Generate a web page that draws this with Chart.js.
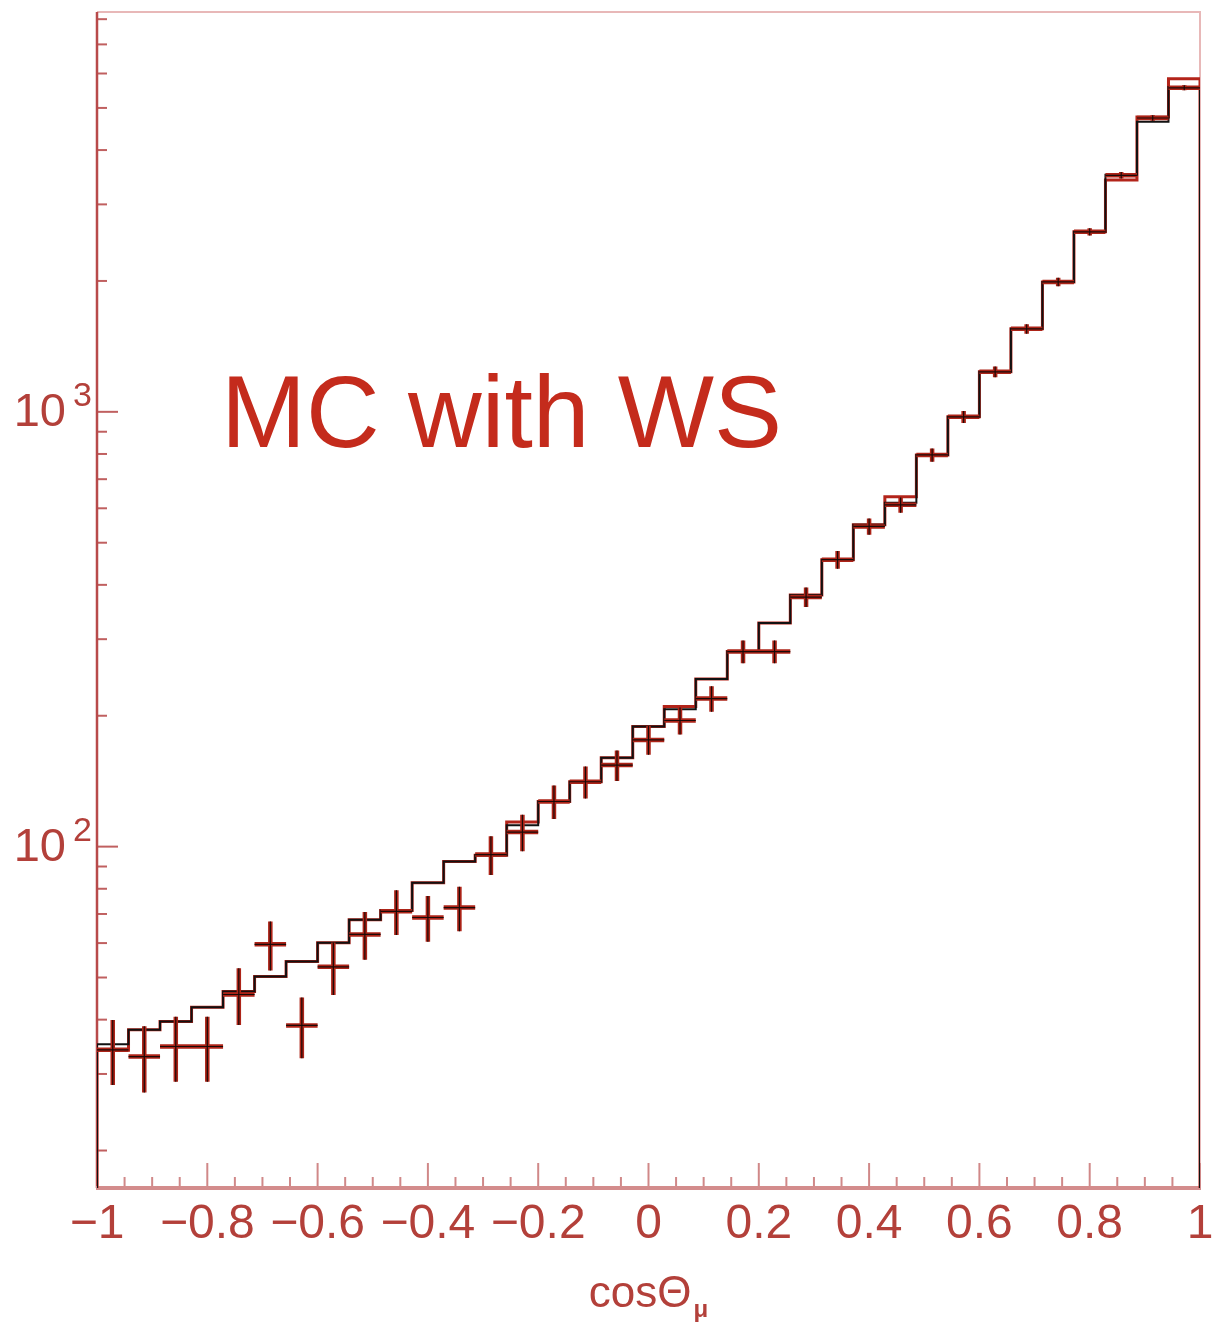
<!DOCTYPE html>
<html>
<head>
<meta charset="utf-8">
<script src="https://cdn.jsdelivr.net/npm/chart.js@4.4.1/dist/chart.umd.min.js"></script>
<style>
  html, body { margin: 0; padding: 0; background: #fff; }
  #wrap { width: 1217px; height: 1331px; }
</style>
</head>
<body>
<div id="wrap"><canvas id="histo" width="1217" height="1331"></canvas></div>
<script>
// cos(theta_mu) distribution, 35 equal bins between -1 and 1
const nBins = 35;
const xMin = -1, xMax = 1;
const yMin = 16.4, yMax = 8310;

// MC prediction, red histogram (entries per bin)
const mcRed = [34, 37.9, 39.6, 42.7, 46.4, 50.3, 54.4, 60.1, 67.9, 71.3, 82.6, 92.4, 95.5, 114, 127, 141, 160, 189,
               210, 243, 281, 327, 379, 457, 550, 638, 796, 974, 1236, 1552, 1990, 2594, 3414, 4766, 5834];
// MC prediction, black histogram
const mcBlack = [35.1, 37.9, 39.6, 42.7, 46.4, 50.3, 54.4, 60.1, 67.9, 71.3, 82.6, 92.4, 95.5, 112, 127, 141, 160, 189,
                 207, 243, 281, 327, 379, 457, 550, 618, 796, 974, 1236, 1552, 1990, 2594, 3508, 4645, 5585];
// data points and their (statistical) errors
const dataVals = [34.1, 32.9, 34.7, 34.7, 45.7, 59.6, 38.8, 52.9, 62.8, 71.0, 68.7, 72.4, 95.9, 108, 127, 141, 154, 176,
                  195, 219, 281, 281, 375, 457, 545, 611, 796, 974, 1236, 1552, 1990, 2594, 3500, 4740, 5563];
const dataErr = [5.8, 5.7, 5.9, 5.9, 6.8, 7.7, 6.2, 7.3, 7.9, 8.4, 8.3, 8.5, 9.8, 10.4, 11.3, 11.9, 12.4, 13.3,
                 14, 14.8, 16.8, 16.8, 19.4, 21.4, 23.3, 24.7, 28, 31, 35, 39, 45, 51, 59, 69, 75];

// axis ticks
const xMajorTicks = [-1, -0.8, -0.6, -0.4, -0.2, 0, 0.2, 0.4, 0.6, 0.8, 1];
const yMajorTicks = [100, 1000];
const yTickLabels = [['10', '2'], ['10', '3']];
const yMinorTicks = [20, 30, 40, 50, 60, 70, 80, 90, 200, 300, 400, 500, 600, 700, 800, 900,
                     2000, 3000, 4000, 5000, 6000, 7000, 8000];

const FONT = '"Liberation Sans", Arial, Helvetica, sans-serif';
const AXIS_RED = '#b3403a';

const binEdges = Array.from({ length: nBins + 1 }, (_, i) => xMin + (xMax - xMin) * i / nBins);
const binCenters = binEdges.slice(0, -1).map((e, i) => (e + binEdges[i + 1]) / 2);

// histogram outline: goes up from below the axis at x=-1 and back down at x=1
function histPoints(vals) {
    const pts = [{ x: xMin, y: 1 }];
    vals.forEach((v, i) => pts.push({ x: binEdges[i], y: v }));
    pts.push({ x: xMax, y: vals[vals.length - 1] });
    pts.push({ x: xMax, y: 1 });
    return pts;
}

// horizontal part of each data cross (bin width)
const crossH = [];
dataVals.forEach((v, i) => {
    crossH.push({ x: binEdges[i], y: v }, { x: binEdges[i + 1], y: v }, { x: binCenters[i], y: null });
});
// vertical part (error bar)
const crossV = [];
dataVals.forEach((v, i) => {
    crossV.push({ x: binCenters[i], y: v - dataErr[i] }, { x: binCenters[i], y: v + dataErr[i] }, { x: binCenters[i], y: null });
});

function lineSet(data, color, width, order, stepped) {
    return {
        data: data,
        borderColor: color,
        borderWidth: width,
        pointRadius: 0,
        pointHoverRadius: 0,
        fill: false,
        spanGaps: false,
        stepped: stepped || false,
        borderCapStyle: 'butt',
        order: order
    };
}

const fmtTick = v => {
    const s = String(Number(Math.abs(v).toFixed(1)));
    return v < -1e-9 ? '\u2212' + s : s;
};

// frame, tick marks and hand-placed labels
const axisDecor = {
    id: 'axisDecor',
    beforeDatasetsDraw(chart) {
        const { ctx, chartArea: a, scales: { x, y } } = chart;
        ctx.save();
        ctx.lineCap = 'butt';
        // top and right frame
        ctx.strokeStyle = '#e8b8b8';
        ctx.lineWidth = 2;
        ctx.beginPath();
        ctx.moveTo(a.left, a.top);
        ctx.lineTo(a.right, a.top);
        ctx.lineTo(a.right, a.bottom);
        ctx.stroke();

        // x ticks (major every 0.2, minor every 0.05), pointing up
        ctx.strokeStyle = '#d08888';
        ctx.lineWidth = 2;
        for (let k = 0; k <= 40; k++) {
            const v = -1 + k * 0.05;
            const px = x.getPixelForValue(v);
            const len = (k % 4 === 0) ? 25 : 11;
            ctx.beginPath();
            ctx.moveTo(px, a.bottom);
            ctx.lineTo(px, a.bottom - len);
            ctx.stroke();
        }
        // y ticks, pointing right
        ctx.strokeStyle = '#c06060';
        yMajorTicks.forEach(v => {
            const py = y.getPixelForValue(v);
            ctx.beginPath(); ctx.moveTo(a.left, py); ctx.lineTo(a.left + 21, py); ctx.stroke();
        });
        yMinorTicks.forEach(v => {
            const py = y.getPixelForValue(v);
            ctx.beginPath(); ctx.moveTo(a.left, py); ctx.lineTo(a.left + 10, py); ctx.stroke();
        });

        // axis lines
        ctx.strokeStyle = '#b84a4a';
        ctx.lineWidth = 2.5;
        ctx.beginPath(); ctx.moveTo(a.left, a.top); ctx.lineTo(a.left, a.bottom); ctx.stroke();
        ctx.strokeStyle = '#d38c8c';
        ctx.lineWidth = 4;
        ctx.beginPath(); ctx.moveTo(a.left - 1, a.bottom); ctx.lineTo(a.right + 1, a.bottom); ctx.stroke();
        ctx.restore();
    },
    afterDraw(chart) {
        const { ctx, chartArea: a, scales: { x, y } } = chart;
        ctx.save();
        ctx.fillStyle = AXIS_RED;
        // y labels 10^n
        yMajorTicks.forEach((v, i) => {
            const py = y.getPixelForValue(v);
            ctx.font = '47px ' + FONT;
            ctx.textAlign = 'right';
            ctx.textBaseline = 'middle';
            ctx.fillText(yTickLabels[i][0], 66, py + 1);
            ctx.font = '34px ' + FONT;
            ctx.textAlign = 'left';
            ctx.textBaseline = 'alphabetic';
            ctx.fillText(yTickLabels[i][1], 73, py - 6);
        });

        // x axis title cosΘ_μ centred under the axis
        ctx.font = '44px ' + FONT;
        const main = 'cos\u0398';
        const wMain = ctx.measureText(main).width;
        ctx.font = 'bold 24px ' + FONT;
        const wSub = ctx.measureText('\u03bc').width;
        const cx = (a.left + a.right) / 2;
        const x0 = cx - (wMain + wSub + 2) / 2;
        ctx.textAlign = 'left';
        ctx.textBaseline = 'alphabetic';
        ctx.font = '44px ' + FONT;
        ctx.fillText(main, x0, 1307);
        ctx.font = 'bold 24px ' + FONT;
        ctx.fillText('\u03bc', x0 + wMain + 2, 1317);

        // annotation
        ctx.fillStyle = '#c42b1c';
        ctx.font = '102px ' + FONT;
        ctx.fillText('MC with WS', x.getPixelForValue(-0.775), y.getPixelForValue(830));
        ctx.restore();
    }
};

new Chart(document.getElementById('histo'), {
    type: 'line',
    data: {
        datasets: [
            lineSet(histPoints(mcRed), '#b3241a', 3, 6, 'before'),
            lineSet(histPoints(mcBlack), '#111111', 2, 5, 'before'),
            lineSet(crossH, '#ad2418', 4.5, 4),
            lineSet(crossV, '#ad2418', 4.5, 3),
            lineSet(crossH, '#1a0a08', 1.2, 2),
            lineSet(crossV, '#1a0a08', 1.2, 1)
        ]
    },
    options: {
        responsive: false,
        animation: false,
        devicePixelRatio: 1,
        layout: { padding: { top: 12, right: 17, left: 0, bottom: 0 } },
        plugins: { legend: { display: false }, tooltip: { enabled: false } },
        events: [],
        scales: {
            x: {
                type: 'linear',
                min: xMin,
                max: xMax,
                grid: { display: false, drawTicks: false },
                border: { display: false },
                afterBuildTicks: s => { s.ticks = xMajorTicks.map(v => ({ value: v })); },
                afterFit: s => { s.height = 143; s.paddingLeft = 0; s.paddingRight = 0; },
                ticks: {
                    autoSkip: false,
                    maxRotation: 0,
                    padding: 8,
                    color: AXIS_RED,
                    font: { size: 48, family: FONT },
                    callback: v => fmtTick(v)
                }
            },
            y: {
                type: 'logarithmic',
                min: yMin,
                max: yMax,
                grid: { display: false, drawTicks: false },
                border: { display: false },
                ticks: { display: false },
                afterFit: s => { s.width = 97; s.paddingTop = 0; s.paddingBottom = 0; }
            }
        }
    },
    plugins: [axisDecor]
});
</script>
</body>
</html>
